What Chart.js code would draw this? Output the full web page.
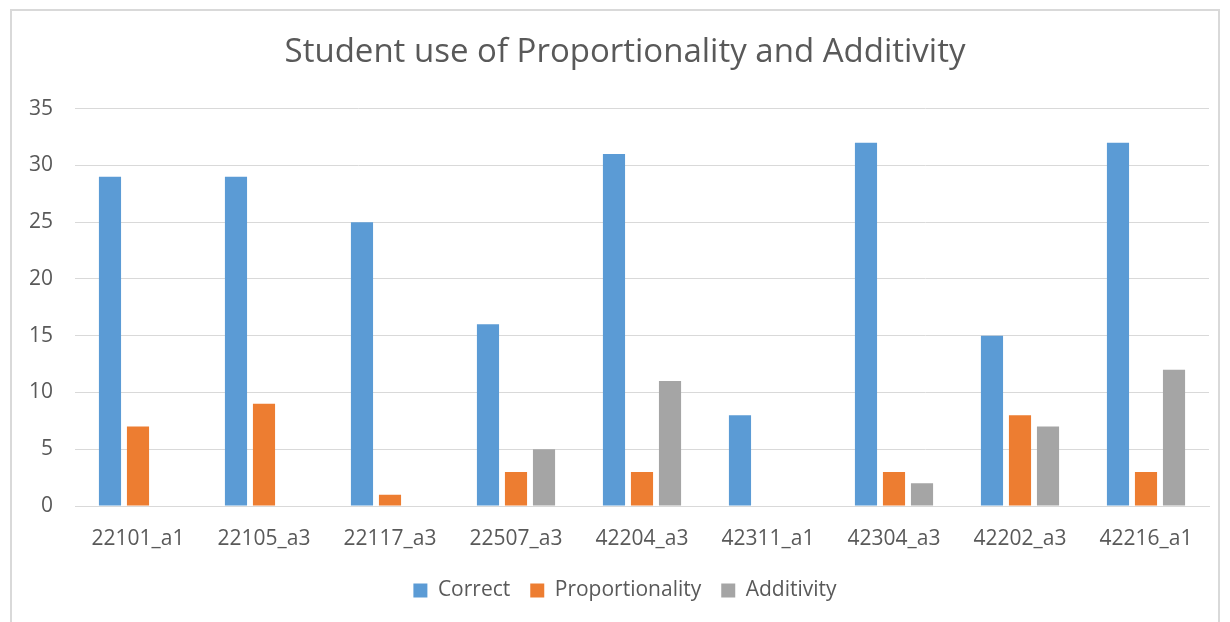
<!DOCTYPE html>
<html>
<head>
<meta charset="utf-8">
<script src="https://cdn.jsdelivr.net/npm/chart.js@4"></script>
<style>
  body { margin: 0; background: #fff; overflow: hidden; }
  #frame { position: absolute; left: 10px; top: 9px; width: 1210px; height: 700px; border: 2px solid #d9d9d9; box-sizing: border-box; }
  #chart { position: absolute; left: 0; top: 0; }
</style>
</head>
<body>
<div id="frame"></div>
<canvas id="chart" width="1230" height="622"></canvas>
<script>
// data
const labels = ["22101_a1", "22105_a3", "22117_a3", "22507_a3", "42204_a3", "42311_a1", "42304_a3", "42202_a3", "42216_a1"];
const correct = [29, 29, 25, 16, 31, 8, 32, 15, 32];
const proportionality = [7, 9, 1, 3, 3, 0, 3, 8, 3];
const additivity = [0, 0, 0, 5, 11, 0, 2, 7, 12];

const font = "'Open Sans', sans-serif";
const textColor = "#595959";

const ctx = document.getElementById("chart");

const chart = new Chart(ctx, {
  type: "bar",
  data: {
    labels: labels,
    datasets: [
      { label: "Correct", data: correct, backgroundColor: "#5b9bd5" },
      { label: "Proportionality", data: proportionality, backgroundColor: "#ed7d31" },
      { label: "Additivity", data: additivity, backgroundColor: "#a5a5a5" }
    ]
  },
  options: {
    responsive: false,
    animation: false,
    layout: { padding: { left: 20, right: 0, top: 0, bottom: 11 } },
    datasets: { bar: { categoryPercentage: 0.667, barPercentage: 0.79 } },
    plugins: {
      title: {
        display: true,
        text: "Student use of Proportionality and Additivity",
        color: textColor,
        font: { family: font, size: 33, weight: "normal" },
        padding: { top: 33, bottom: 36 }
      },
      legend: {
        position: "bottom",
        labels: {
          color: textColor,
          font: { family: font, size: 21 },
          boxWidth: 14,
          boxHeight: 14,
          padding: 20
        }
      },
      tooltip: { enabled: false }
    },
    scales: {
      x: {
        grid: { display: false },
        border: { color: "#d9d9d9", width: 1 },
        ticks: { color: textColor, font: { family: font, size: 21 }, padding: 12, maxRotation: 0 },
        afterFit: s => { s.height = 54; }
      },
      y: {
        min: 0,
        max: 35,
        ticks: { stepSize: 5, color: textColor, font: { family: font, size: 21 }, padding: 22 },
        grid: { color: "#d9d9d9", lineWidth: 1, drawTicks: false },
        border: { display: false },
        afterFit: s => { s.width = 55; }
      },
      // empty right-hand spacer so the plot ends where the reference does
      spacer: {
        type: "linear",
        position: "right",
        display: true,
        grid: { display: false },
        ticks: { display: false },
        border: { display: false },
        afterFit: s => { s.width = 21; }
      }
    }
  }
});
</script>
</body>
</html>
